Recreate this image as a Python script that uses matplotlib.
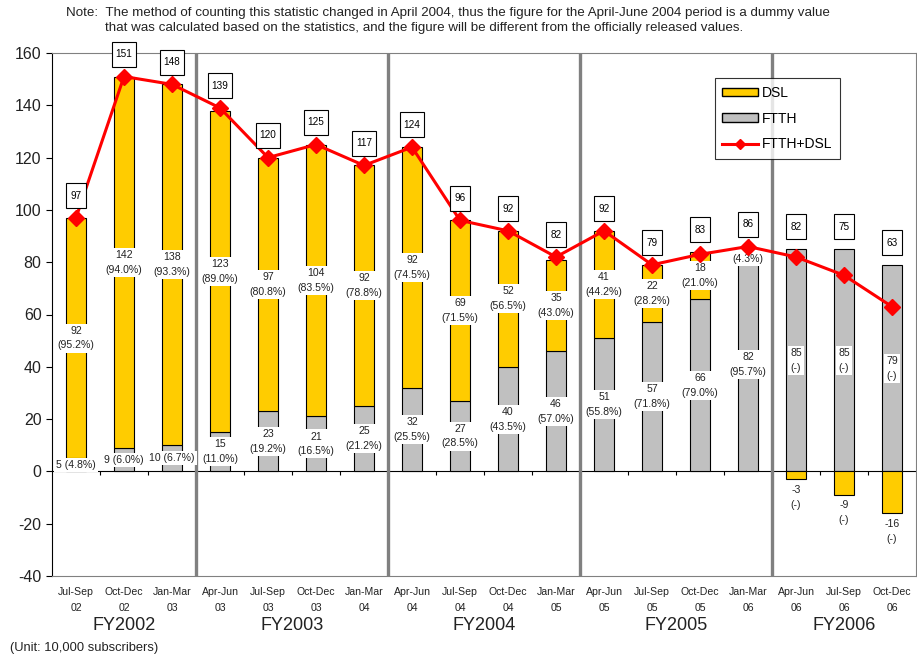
import matplotlib
matplotlib.use("Agg")
import matplotlib.pyplot as plt
import numpy as np
from matplotlib.patches import Patch
from matplotlib.lines import Line2D
from matplotlib.path import Path

plt.rcParams["font.family"] = ["Liberation Sans", "DejaVu Sans"]
plt.rcParams["axes.unicode_minus"] = False

# Quarters and fiscal years
quarters = ["Jul-Sep\n02", "Oct-Dec\n02", "Jan-Mar\n03",
            "Apr-Jun\n03", "Jul-Sep\n03", "Oct-Dec\n03", "Jan-Mar\n04",
            "Apr-Jun\n04", "Jul-Sep\n04", "Oct-Dec\n04", "Jan-Mar\n05",
            "Apr-Jun\n05", "Jul-Sep\n05", "Oct-Dec\n05", "Jan-Mar\n06",
            "Apr-Jun\n06", "Jul-Sep\n06", "Oct-Dec\n06"]
fiscal_years = ["FY2002", "FY2003", "FY2004", "FY2005", "FY2006"]
fy_sizes = [3, 4, 4, 4, 3]

# Net increase (10,000 subscribers)
dsl = [92, 142, 138, 123, 97, 104, 92, 92, 69, 52, 35, 41, 22, 18, 4, -3, -9, -16]
ftth = [5, 9, 10, 15, 23, 21, 25, 32, 27, 40, 46, 51, 57, 66, 82, 85, 85, 79]
total = [97, 151, 148, 139, 120, 125, 117, 124, 96, 92, 82, 92, 79, 83, 86, 82, 75, 63]
dsl_pct = ["95.2%", "94.0%", "93.3%", "89.0%", "80.8%", "83.5%", "78.8%", "74.5%",
           "71.5%", "56.5%", "43.0%", "44.2%", "28.2%", "21.0%", "4.3%", "-", "-", "-"]
ftth_pct = ["4.8%", "6.0%", "6.7%", "11.0%", "19.2%", "16.5%", "21.2%", "25.5%",
            "28.5%", "43.5%", "57.0%", "55.8%", "71.8%", "79.0%", "95.7%", "-", "-", "-"]

gold = "#FFCC00"
gray = "#C0C0C0"
red = "#FF0000"
txt = "#222222"


def tall_box(x0, y0, width, height, mutation_size):
    # square box with more padding top/bottom than left/right
    px = 0.4 * mutation_size
    py = 0.75 * mutation_size
    x0, y0 = x0 - px, y0 - py
    x1, y1 = x0 + width + 2 * px, y0 + height + 2 * py
    return Path([(x0, y0), (x1, y0), (x1, y1), (x0, y1), (x0, y0)], closed=True)


x = np.arange(len(quarters))
w = 0.42

fig = plt.figure(figsize=(9.17, 6.6), dpi=100)
ax = fig.add_axes([52/917, 84/660, 864/917, 523/660])

# stacked bars: FTTH at the bottom, DSL on top (negative DSL goes below zero)
ax.bar(x, ftth, w, color=gray, edgecolor="black", linewidth=0.8, zorder=2)
dsl_bottom = [f if d >= 0 else 0 for f, d in zip(ftth, dsl)]
ax.bar(x, dsl, w, bottom=dsl_bottom, color=gold, edgecolor="black", linewidth=0.8, zorder=2)

ax.axhline(0, color="black", linewidth=0.8, zorder=1)
ax.vlines(x[1:] - 0.5, -1.2, 0, color="black", linewidth=0.8, zorder=1)

# fiscal year separators
edges = np.cumsum(fy_sizes)[:-1] - 0.5
for e in edges:
    ax.axvline(e, color="#808080", linewidth=2.4, zorder=1)

# labels inside bars
box = dict(boxstyle="square,pad=0.2", facecolor="white", edgecolor="none")
for i in x:
    if i < 3:
        ftxt = f"{ftth[i]} ({ftth_pct[i]})"
    else:
        ftxt = f"{ftth[i]}\n({ftth_pct[i]})"
    ax.text(i, ftth[i] / 2, ftxt, ha="center", va="center", fontsize=7.6,
            color=txt, bbox=box, zorder=4, linespacing=1.6)
    if dsl[i] >= 0:
        ax.text(i, ftth[i] + dsl[i] / 2, f"{dsl[i]}\n({dsl_pct[i]})", ha="center",
                va="center", fontsize=7.6, color=txt, bbox=box, zorder=4,
                linespacing=1.6)
    else:
        ax.annotate(f"{dsl[i]}\n({dsl_pct[i]})", (i, dsl[i]), xytext=(0, -4),
                    textcoords="offset points", ha="center", va="top",
                    fontsize=7.6, color=txt, linespacing=1.6)

# total line, boxed totals sit above the point or the bar, whichever is higher
ax.plot(x, total, color=red, linewidth=2.2, marker="D", markersize=8, zorder=5)
for i in x:
    top = max(total[i], ftth[i] + max(dsl[i], 0))
    ax.annotate(str(total[i]), (i, top), xytext=(0, 16),
                textcoords="offset points", ha="center", va="center", fontsize=7.2,
                bbox=dict(boxstyle=tall_box, facecolor="white",
                          edgecolor="black", linewidth=0.8), zorder=6)

ax.set_xlim(-0.5, len(quarters) - 0.5)
ax.set_ylim(-40, 160)
ax.set_yticks(np.arange(-40, 161, 20))
ax.tick_params(axis="y", labelsize=11.5, length=4, color="black", labelcolor=txt)
ax.set_xticks(x)
ax.set_xticklabels(quarters, fontsize=7.6, color=txt, linespacing=1.7)
ax.tick_params(axis="x", length=0, pad=8)
for s in ["top", "right", "bottom"]:
    ax.spines[s].set_color("#808080")
ax.spines["left"].set_color("black")

# fiscal year labels
start = 0
for fy, n in zip(fiscal_years, fy_sizes):
    mid = start + (n - 1) / 2
    ax.annotate(fy, (mid, 0), xycoords=("data", "axes fraction"), xytext=(0, -36),
                textcoords="offset points", ha="center", va="center", fontsize=13,
                color=txt)
    start += n

handles = [Patch(facecolor=gold, edgecolor="black", label="DSL"),
           Patch(facecolor=gray, edgecolor="black", label="FTTH"),
           Line2D([0], [0], color=red, linewidth=2.2, marker="D", markersize=5,
                  label="FTTH+DSL")]
leg = ax.legend(handles=handles, loc="upper left", bbox_to_anchor=(0.767, 0.952),
                borderaxespad=0, fontsize=10, frameon=True, fancybox=False,
                edgecolor="black", handlelength=2.6, handleheight=0.55,
                labelspacing=0.85, borderpad=0.55, handletextpad=0.25)
leg.get_frame().set_linewidth(0.8)
leg.set_zorder(7)

fig.text(66/917, 1 - 13/660,
         "Note:  The method of counting this statistic changed in April 2004, thus the figure for the April-June 2004 period is a dummy value",
         fontsize=9.6, va="center", ha="left", color=txt)
fig.text(105/917, 1 - 28/660,
         "that was calculated based on the statistics, and the figure will be different from the officially released values.",
         fontsize=9.6, va="center", ha="left", color=txt)
fig.text(10/917, 1 - 648/660, "(Unit: 10,000 subscribers)", fontsize=9.3,
         va="center", ha="left", color=txt)

fig.savefig("out.png", dpi=100)
